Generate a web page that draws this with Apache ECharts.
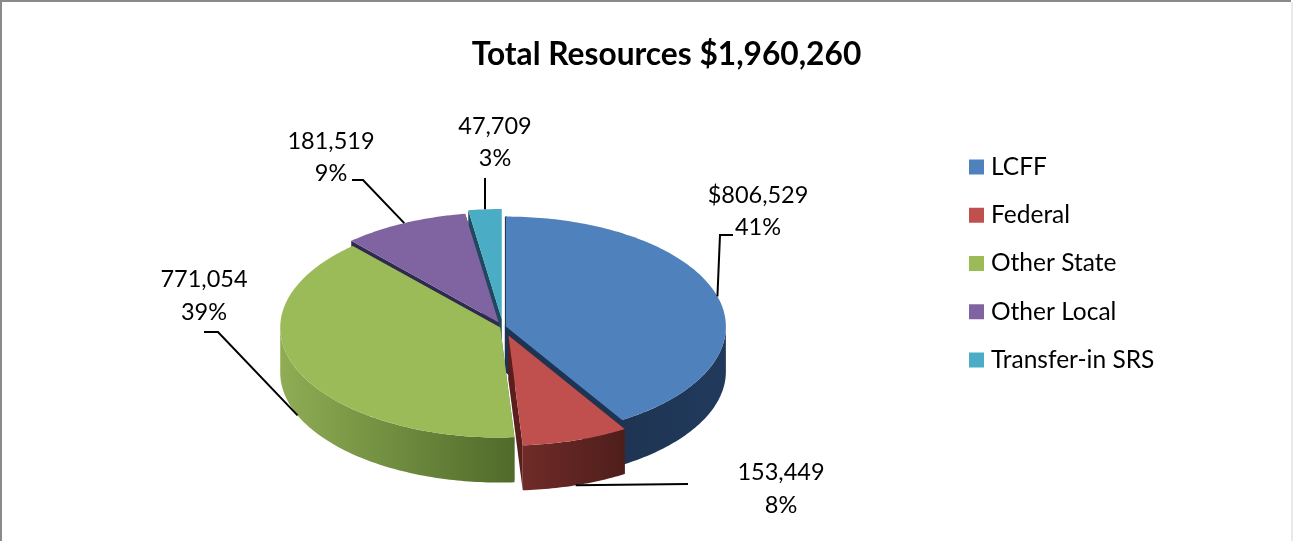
<!DOCTYPE html>
<html>
<head>
<meta charset="utf-8">
<title>Total Resources</title>
<script src="https://cdn.jsdelivr.net/npm/echarts@6/dist/echarts.min.js"></script>
<style>
  html, body { margin: 0; padding: 0; background: #fff; }
  #chart { width: 1293px; height: 541px; }
</style>
</head>
<body>
<div id="chart"></div>
<script>
// Revenue sources
const categories = ['LCFF', 'Federal', 'Other State', 'Other Local', 'Transfer-in SRS'];
const values = [806529, 153449, 771054, 181519, 47709];
const amountLabels = ['$806,529', '153,449', '771,054', '181,519', '47,709'];
const percentLabels = ['41%', '8%', '39%', '9%', '3%'];
const titleText = 'Total Resources $1,960,260';

// Slice colours
const topColors = ['#4F81BD', '#C0504D', '#9BBB59', '#8064A2', '#4BACC6'];
const faceColors = ['#1D3454', '#5A1F1C', '#5C7530', '#2E2A52', '#1E4A60'];
const faceStrokes = [2, 0, 0, 0, 0];
const wallStops = [
  ['#1E3452', '#213A5C'],
  ['#702B28', '#4E1E1B'],
  ['#8FAD54', '#506A2A'],
  ['#4D3B63', '#4D3B63'],
  ['#2B6B7D', '#2B6B7D']
];

// Pie geometry (tilted disc, angles clockwise from 12 o'clock)
const cx = 503, cy = 327, rx = 220, ry = 110, depth = 45;
const explode = [3, 18, 3, 10, 16];
const paintRank = [3, 5, 4, 2, 1];

// Label placement
const labelCenters = [[758, 211.5], [781, 489], [204, 296], [331, 157.5], [495, 142.5]];
const leaderElbows = [
  [[720, 235], [733, 235]],
  [[688, 484]],
  [[218, 332], [204, 332]],
  [[363, 180], [352, 180]],
  [[485, 178]]
];
const labelFont = 'Lato, "Noto Sans", sans-serif';

const total = values.reduce((a, b) => a + b, 0);
const rad = d => d * Math.PI / 180;

function rimPoint(c, deg, drop) {
  return [c[0] + rx * Math.sin(rad(deg)), c[1] - ry * Math.cos(rad(deg)) + (drop || 0)];
}

function arcPoints(c, a0, a1, drop) {
  const pts = [];
  const n = Math.max(2, Math.ceil(Math.abs(a1 - a0)));
  for (let k = 0; k <= n; k++) pts.push(rimPoint(c, a0 + (a1 - a0) * k / n, drop));
  return pts;
}

function drawSlice(index, api) {
  const value = api.value(0);
  const before = values.slice(0, index).reduce((a, b) => a + b, 0);
  const start = before / total * 360;
  const end = start + value / total * 360;
  const mid = (start + end) / 2;
  const d = explode[index];
  const c = [cx + d * Math.sin(rad(mid)), cy - d * 0.5 * Math.cos(rad(mid))];
  const children = [];

  // Cut faces, visible where a neighbouring slice has moved away
  [start, end].forEach(a => {
    const p = rimPoint(c, a);
    children.push({
      type: 'polygon',
      shape: { points: [c, p, [p[0], p[1] + depth], [c[0], c[1] + depth]] },
      style: { fill: faceColors[index], stroke: faceColors[index], lineWidth: faceStrokes[index] }
    });
  });

  // Outer wall, only the part of the rim that faces the viewer
  const w0 = Math.max(start, 90), w1 = Math.min(end, 270);
  if (w1 > w0) {
    const upper = arcPoints(c, w0, w1, 0);
    const lower = arcPoints(c, w1, w0, depth);
    const xs = upper.map(p => p[0]);
    const lo = Math.min(...xs), hi = Math.max(...xs);
    children.push({
      type: 'polygon',
      shape: { points: upper.concat(lower) },
      style: {
        fill: new echarts.graphic.LinearGradient(lo, 0, hi, 0, [
          { offset: 0, color: wallStops[index][0] },
          { offset: 1, color: wallStops[index][1] }
        ], true)
      }
    });
  }

  // Top surface
  children.push({
    type: 'polygon',
    shape: { points: [c].concat(arcPoints(c, start, end, 0)) },
    style: { fill: topColors[index] }
  });

  // Leader line, from the rim at the slice's middle angle out to its label
  const onWall = mid > 90 && mid < 270;
  const anchor = rimPoint(c, mid, onWall ? depth : 0);
  children.push({
    type: 'polyline',
    shape: { points: [anchor].concat(leaderElbows[index]) },
    style: { stroke: '#000', lineWidth: 2, fill: null }
  });

  // Amount and percentage
  children.push({
    type: 'text',
    style: {
      text: amountLabels[index] + '\n' + percentLabels[index],
      x: labelCenters[index][0],
      y: labelCenters[index][1],
      align: 'center',
      verticalAlign: 'middle',
      font: '23.5px ' + labelFont,
      lineHeight: 32.5,
      fill: '#000'
    }
  });

  return { type: 'group', children };
}

const chart = echarts.init(document.getElementById('chart'));
chart.setOption({
  animation: false,
  color: topColors,
  title: {
    text: titleText,
    left: 661.5,
    top: 34,
    textAlign: 'center',
    textStyle: { fontFamily: labelFont, fontSize: 31.7, fontWeight: 'bold', color: '#000' }
  },
  legend: {
    data: categories,
    orient: 'vertical',
    left: 964,
    top: 148,
    icon: 'rect',
    itemWidth: 15,
    itemHeight: 15,
    itemGap: 20.25,
    selectedMode: false,
    textStyle: { fontFamily: labelFont, fontSize: 24.5, color: '#000', lineHeight: 28, padding: [0, 0, 0, 2] }
  },
  graphic: [
    {
      type: 'polyline',
      silent: true,
      shape: { points: [[1, 541], [1, 1], [1291, 1]] },
      style: { stroke: '#8A8A8A', lineWidth: 2, fill: null }
    },
    {
      type: 'line',
      silent: true,
      shape: { x1: 1292, y1: 2, x2: 1292, y2: 541 },
      style: { stroke: '#E8E8E8', lineWidth: 2 }
    }
  ],
  series: categories.map((name, i) => ({
    type: 'custom',
    name,
    coordinateSystem: 'none',
    z: paintRank[i],
    silent: true,
    data: [[values[i]]],
    renderItem: (params, api) => drawSlice(i, api)
  }))
});
</script>
</body>
</html>
